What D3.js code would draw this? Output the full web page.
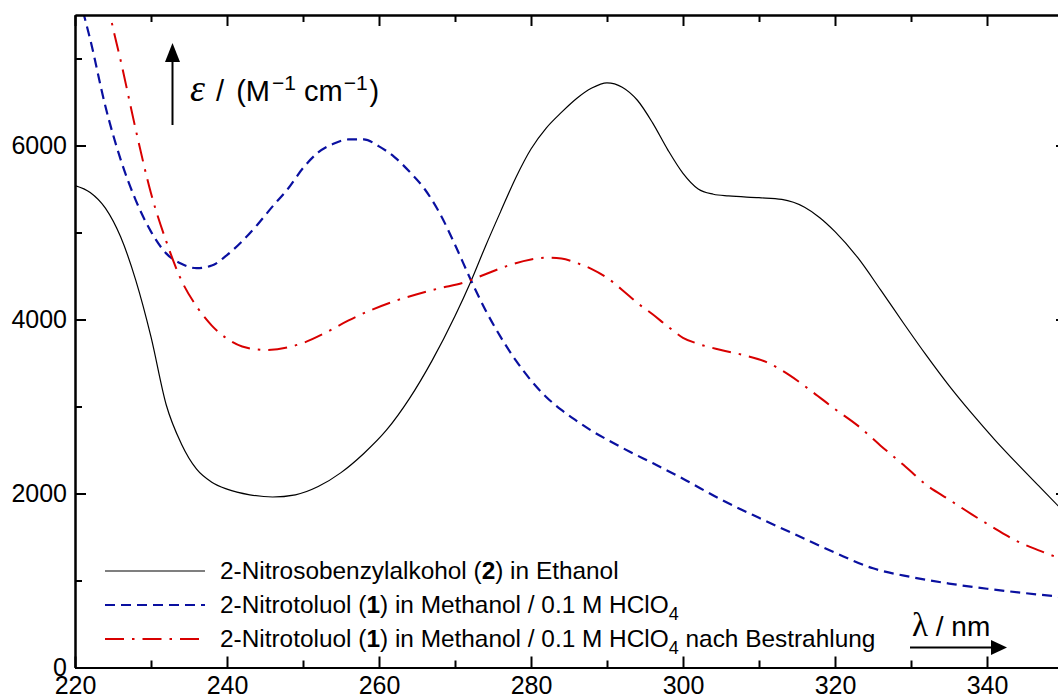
<!DOCTYPE html>
<html>
<head>
<meta charset="utf-8">
<script src="https://cdn.jsdelivr.net/npm/d3@7"></script>
<style>
  html, body { margin: 0; padding: 0; background: #fff; }
  svg { display: block; font-family: "Liberation Sans", Arial, sans-serif; }
</style>
</head>
<body>
<svg id="chart" width="1058" height="695"></svg>
<script>
// UV/Vis spectra: molar absorptivity vs. wavelength

// 2-Nitrosobenzylalkohol (2) in Ethanol
const lambdaNitroso = [220,222,224,226,228,230,232,234,236,238,240,243,246,249,252,255,258,261,264,267,270,272,274,276,278,280,282,284,286,288,290,292,294,296,298,300,302,304,306,310,313,316,318,320,323,326,329,332,335,338,341,344,347,350];
const epsNitroso    = [5540,5460,5280,4950,4450,3800,3020,2570,2280,2130,2050,1985,1960,1985,2080,2240,2460,2730,3090,3530,4040,4420,4840,5240,5630,5960,6200,6380,6540,6660,6720,6670,6520,6260,5950,5680,5500,5440,5420,5400,5380,5290,5170,5010,4710,4340,3960,3590,3240,2920,2620,2340,2070,1800];

// 2-Nitrotoluol (1) in Methanol / 0.1 M HClO4
const lambdaToluol = [220,221,222,224,226,228,230,232,234,236,238,240,242,244,246,248,250,252,254,256,258,260,262,264,266,268,270,272,274,276,278,280,282,284,286,288,290,293,296,300,305,310,315,320,325,330,335,340,345,350];
const epsToluol    = [7900,7560,7220,6450,5840,5370,5010,4760,4640,4590,4620,4740,4900,5090,5300,5500,5740,5920,6020,6070,6070,5990,5870,5700,5500,5220,4860,4470,4110,3800,3530,3300,3110,2960,2835,2720,2620,2480,2350,2170,1930,1720,1520,1320,1140,1040,965,905,855,810];

// 2-Nitrotoluol (1) in Methanol / 0.1 M HClO4 nach Bestrahlung
const lambdaIrr = [220,222,224,225,226,228,230,232,234,236,238,240,242,245,248,250,253,256,259,262,265,268,271,274,277,280,282,284,286,288,290,292,294,296,298,300,302,305,308,311,314,317,320,323,326,329,332,335,338,341,344,347,350];
const epsIrr    = [9400,8600,7750,7350,6980,6180,5450,4900,4450,4150,3930,3780,3690,3650,3680,3730,3850,3990,4110,4210,4290,4360,4420,4520,4620,4690,4710,4700,4650,4580,4480,4340,4190,4060,3920,3790,3720,3650,3590,3510,3360,3170,2970,2780,2550,2330,2100,1930,1760,1600,1450,1340,1240];

const xTickValues = [220,240,260,280,300,320,340];
const xMinorValues = [230,250,270,290,310,330,350];
const yTickValues = [0,2000,4000,6000];
const yMinorValues = [1000,3000,5000,7000];

const legendLabels = [
  ["2-Nitrosobenzylalkohol (", {b: "2"}, ") in Ethanol"],
  ["2-Nitrotoluol (", {b: "1"}, ") in Methanol / 0.1 M HClO", {sub: "4"}],
  ["2-Nitrotoluol (", {b: "1"}, ") in Methanol / 0.1 M HClO", {sub: "4"}, " nach Bestrahlung"]
];

const svg = d3.select("#chart");
const plotLeft = 75, plotRight = 1063, plotTop = 15, plotBottom = 667.5;

const x = d3.scaleLinear().domain([220, 350]).range([plotLeft, plotRight]);
const y = d3.scaleLinear().domain([0, 7500]).range([plotBottom, plotTop]);

const series = [
  {lam: lambdaNitroso, eps: epsNitroso, color: "#000000", width: 1.2, dash: null},
  {lam: lambdaToluol, eps: epsToluol, color: "#0a10a0", width: 2.2, dash: "10,6"},
  {lam: lambdaIrr, eps: epsIrr, color: "#d80000", width: 2.0, dash: "19,8,2.5,8"}
];

svg.append("defs").append("clipPath").attr("id", "plotclip")
  .append("rect").attr("x", plotLeft).attr("y", plotTop)
  .attr("width", plotRight - plotLeft).attr("height", plotBottom - plotTop);

const line = d3.line().curve(d3.curveMonotoneX)
  .x(d => x(d[0])).y(d => y(d[1]));

const plot = svg.append("g").attr("clip-path", "url(#plotclip)");
series.forEach(s => {
  const pts = s.lam.map((l, i) => [l, s.eps[i]]);
  plot.append("path")
    .attr("d", line(pts))
    .attr("fill", "none")
    .attr("stroke", s.color)
    .attr("stroke-width", s.width)
    .attr("stroke-dasharray", s.dash)
    .attr("stroke-linejoin", "round");
});

// frame axes
function styleAxis(g) {
  g.select(".domain").attr("stroke", "#000").attr("stroke-width", 2);
  g.selectAll(".tick line").attr("stroke", "#000").attr("stroke-width", 2);
  g.selectAll("text").attr("fill", "#000").style("font-size", "25px")
    .style("font-family", "'Liberation Sans', Arial, sans-serif");
}

// bottom
svg.append("g").attr("transform", `translate(0,${plotBottom})`)
  .call(d3.axisBottom(x).tickValues(xTickValues).tickSize(-11).tickSizeOuter(0).tickPadding(9).tickFormat(d3.format("d")))
  .call(styleAxis);
svg.append("g").attr("transform", `translate(0,${plotBottom})`)
  .call(d3.axisBottom(x).tickValues(xMinorValues).tickSize(-7).tickSizeOuter(0).tickFormat(""))
  .call(styleAxis);
// top
svg.append("g").attr("transform", `translate(0,${plotTop})`)
  .call(d3.axisTop(x).tickValues(xTickValues).tickSize(-11).tickSizeOuter(0).tickFormat(""))
  .call(styleAxis);
svg.append("g").attr("transform", `translate(0,${plotTop})`)
  .call(d3.axisTop(x).tickValues(xMinorValues).tickSize(-7).tickSizeOuter(0).tickFormat(""))
  .call(styleAxis);
// left
svg.append("g").attr("transform", `translate(${plotLeft},0)`)
  .call(d3.axisLeft(y).tickValues(yTickValues).tickSize(-11).tickSizeOuter(0).tickPadding(8).tickFormat(d3.format("d")))
  .call(styleAxis);
svg.append("g").attr("transform", `translate(${plotLeft},0)`)
  .call(d3.axisLeft(y).tickValues(yMinorValues).tickSize(-7).tickSizeOuter(0).tickFormat(""))
  .call(styleAxis);
// right
svg.append("g").attr("transform", `translate(${plotRight},0)`)
  .call(d3.axisRight(y).tickValues(yTickValues).tickSize(-7).tickSizeOuter(0).tickFormat(""))
  .call(styleAxis);

// legend
const legend = svg.append("g");
legendLabels.forEach((parts, i) => {
  const cy = 571 + i * 34;
  const s = series[i];
  legend.append("line")
    .attr("x1", 105).attr("x2", 205).attr("y1", cy).attr("y2", cy)
    .attr("stroke", s.color).attr("stroke-width", s.width)
    .attr("stroke-dasharray", s.dash);
  const t = legend.append("text").attr("x", 220).attr("y", cy + 8)
    .style("font-size", "24.4px").attr("fill", "#000");
  let shifted = false;
  parts.forEach(p => {
    if (typeof p === "string") {
      const ts = t.append("tspan").text(p);
      if (shifted) { ts.attr("dy", -7); shifted = false; }
    } else if (p.b) {
      t.append("tspan").style("font-weight", "bold").text(p.b);
    } else if (p.sub) {
      t.append("tspan").attr("dy", 7).style("font-size", "18px").text(p.sub);
      shifted = true;
    }
  });
});

// y-axis title with arrow
const yt = svg.append("g");
yt.append("line").attr("x1", 172.5).attr("x2", 172.5).attr("y1", 125).attr("y2", 58)
  .attr("stroke", "#000").attr("stroke-width", 2);
yt.append("path").attr("d", "M172.5,43 L165,62 L180,62 Z").attr("fill", "#000");
const ylab = yt.append("text").attr("x", 190).attr("y", 101).attr("fill", "#000").style("font-size", "29px");
ylab.append("tspan").style("font-family", "'Liberation Serif', 'Times New Roman', serif")
  .style("font-style", "italic").style("font-size", "38px").text("ε");
ylab.append("tspan").attr("dx", 3).text(" / ");
ylab.append("tspan").attr("dx", 4).text("(M");
ylab.append("tspan").attr("dy", -11).attr("dx", 2).style("font-size", "21px").text("−1");
ylab.append("tspan").attr("dy", 11).text(" cm");
ylab.append("tspan").attr("dy", -11).attr("dx", 1).style("font-size", "21px").text("−1");
ylab.append("tspan").attr("dy", 11).attr("dx", 2).text(")");

// x-axis title with arrow
const xt = svg.append("g");
const xlab = xt.append("text").attr("x", 912).attr("y", 636).attr("fill", "#000").style("font-size", "28px");
xlab.append("tspan").style("font-family", "'Liberation Serif', 'Times New Roman', serif")
  .style("font-size", "33px").text("λ");
xlab.append("tspan").text(" / nm");
xt.append("line").attr("x1", 910).attr("x2", 994).attr("y1", 647.5).attr("y2", 647.5)
  .attr("stroke", "#000").attr("stroke-width", 2);
xt.append("path").attr("d", "M1007,647.5 L991,640 L991,655 Z").attr("fill", "#000");
</script>
</body>
</html>
